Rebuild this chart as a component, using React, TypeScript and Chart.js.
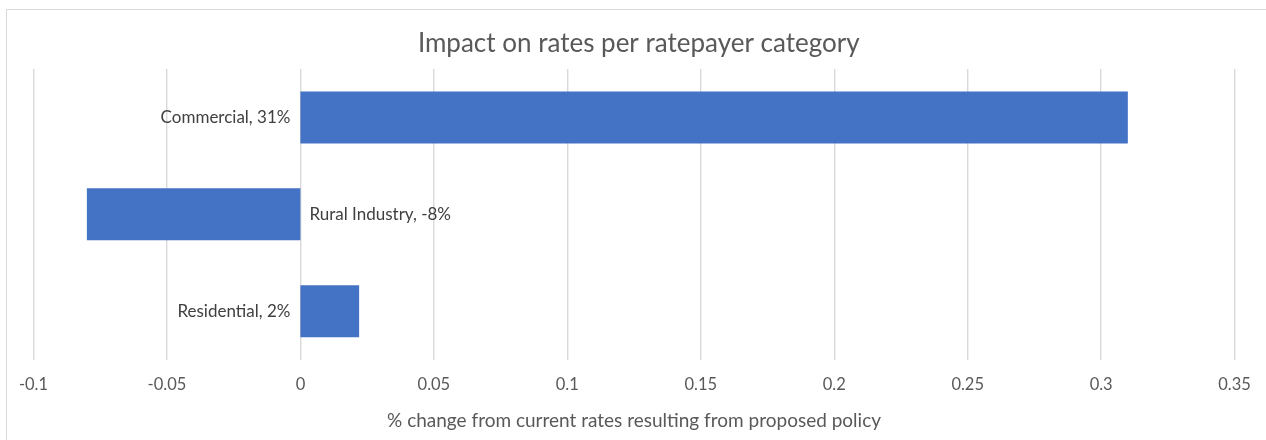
import React, { useEffect, useRef } from "react";
import { Chart, registerables } from "chart.js";

Chart.register(...registerables);

// Ratepayer categories and the proposed change in rates for each
const categories: string[] = ["Commercial", "Rural Industry", "Residential"];
const changeValues: number[] = [0.31, -0.08, 0.022];
const changeLabels: string[] = ["31%", "-8%", "2%"];

const xMin = -0.1;
const xMax = 0.35;
const xStep = 0.05;

const FONT = "Lato, 'Open Sans', sans-serif";

// Writes "Category, value" beside the base of each bar, on the side away from the bar
const baseLabelPlugin = {
  id: "baseLabels",
  afterDatasetsDraw(chart: any) {
    const { ctx } = chart;
    const meta = chart.getDatasetMeta(0);
    const xScale = chart.scales.x;
    const zeroX = xScale.getPixelForValue(0);
    ctx.save();
    ctx.font = `17px ${FONT}`;
    ctx.fillStyle = "#404040";
    ctx.textBaseline = "middle";
    meta.data.forEach((bar: any, i: number) => {
      const text = `${categories[i]}, ${changeLabels[i]}`;
      const v = changeValues[i];
      if (v >= 0) {
        ctx.textAlign = "right";
        ctx.fillText(text, zeroX - 10, bar.y);
      } else {
        ctx.textAlign = "left";
        ctx.fillText(text, zeroX + 9, bar.y);
      }
    });
    ctx.restore();
  },
};

export default function App() {
  const canvasRef = useRef<HTMLCanvasElement | null>(null);

  useEffect(() => {
    if (!canvasRef.current) return;
    const chart = new Chart(canvasRef.current, {
      type: "bar",
      data: {
        labels: categories,
        datasets: [
          {
            data: changeValues,
            backgroundColor: "#4472C4",
            borderWidth: 0,
            categoryPercentage: 1,
            barPercentage: 0.536,
          },
        ],
      },
      options: {
        indexAxis: "y",
        animation: false,
        responsive: false,
        maintainAspectRatio: false,
        layout: {
          padding: { top: 28.4, left: 33.5, right: 22, bottom: 6 },
        },
        plugins: {
          legend: { display: false },
          tooltip: { enabled: false },
          title: {
            display: true,
            text: "Impact on rates per ratepayer category",
            color: "#595959",
            font: { family: FONT, size: 26, weight: "normal", lineHeight: 1.2 },
            padding: { top: 0, bottom: 9.4 },
          },
        },
        scales: {
          x: {
            type: "linear",
            min: xMin,
            max: xMax,
            ticks: {
              stepSize: xStep,
              padding: 15.1,
              color: "#595959",
              font: { family: FONT, size: 16.5, lineHeight: 1.2 },
              callback: (v: any) => String(Math.round(Number(v) * 100) / 100),
            },
            grid: {
              color: "#d9d9d9",
              lineWidth: 1.4,
              drawTicks: false,
            },
            border: { display: false },
            title: {
              display: true,
              text: "% change from current rates resulting from proposed policy",
              color: "#595959",
              font: { family: FONT, size: 19, lineHeight: 1.2 },
              padding: { top: 0, bottom: 1.6 },
            },
          },
          y: {
            display: false,
            grid: { display: false },
          },
        },
      },
      plugins: [baseLabelPlugin],
    });
    return () => chart.destroy();
  }, []);

  return (
    <div
      style={{
        position: "absolute",
        left: 0,
        top: 0,
        width: 1266,
        height: 440,
        overflow: "hidden",
        background: "#ffffff",
      }}
    >
      <div
        style={{
          position: "absolute",
          left: 6,
          top: 9,
          width: 1300,
          height: 500,
          border: "1px solid #d9d9d9",
          boxSizing: "border-box",
        }}
      />
      <canvas
        ref={canvasRef}
        width={1266}
        height={440}
        style={{ position: "absolute", left: 0, top: 0, width: 1266, height: 440 }}
      />
    </div>
  );
}
